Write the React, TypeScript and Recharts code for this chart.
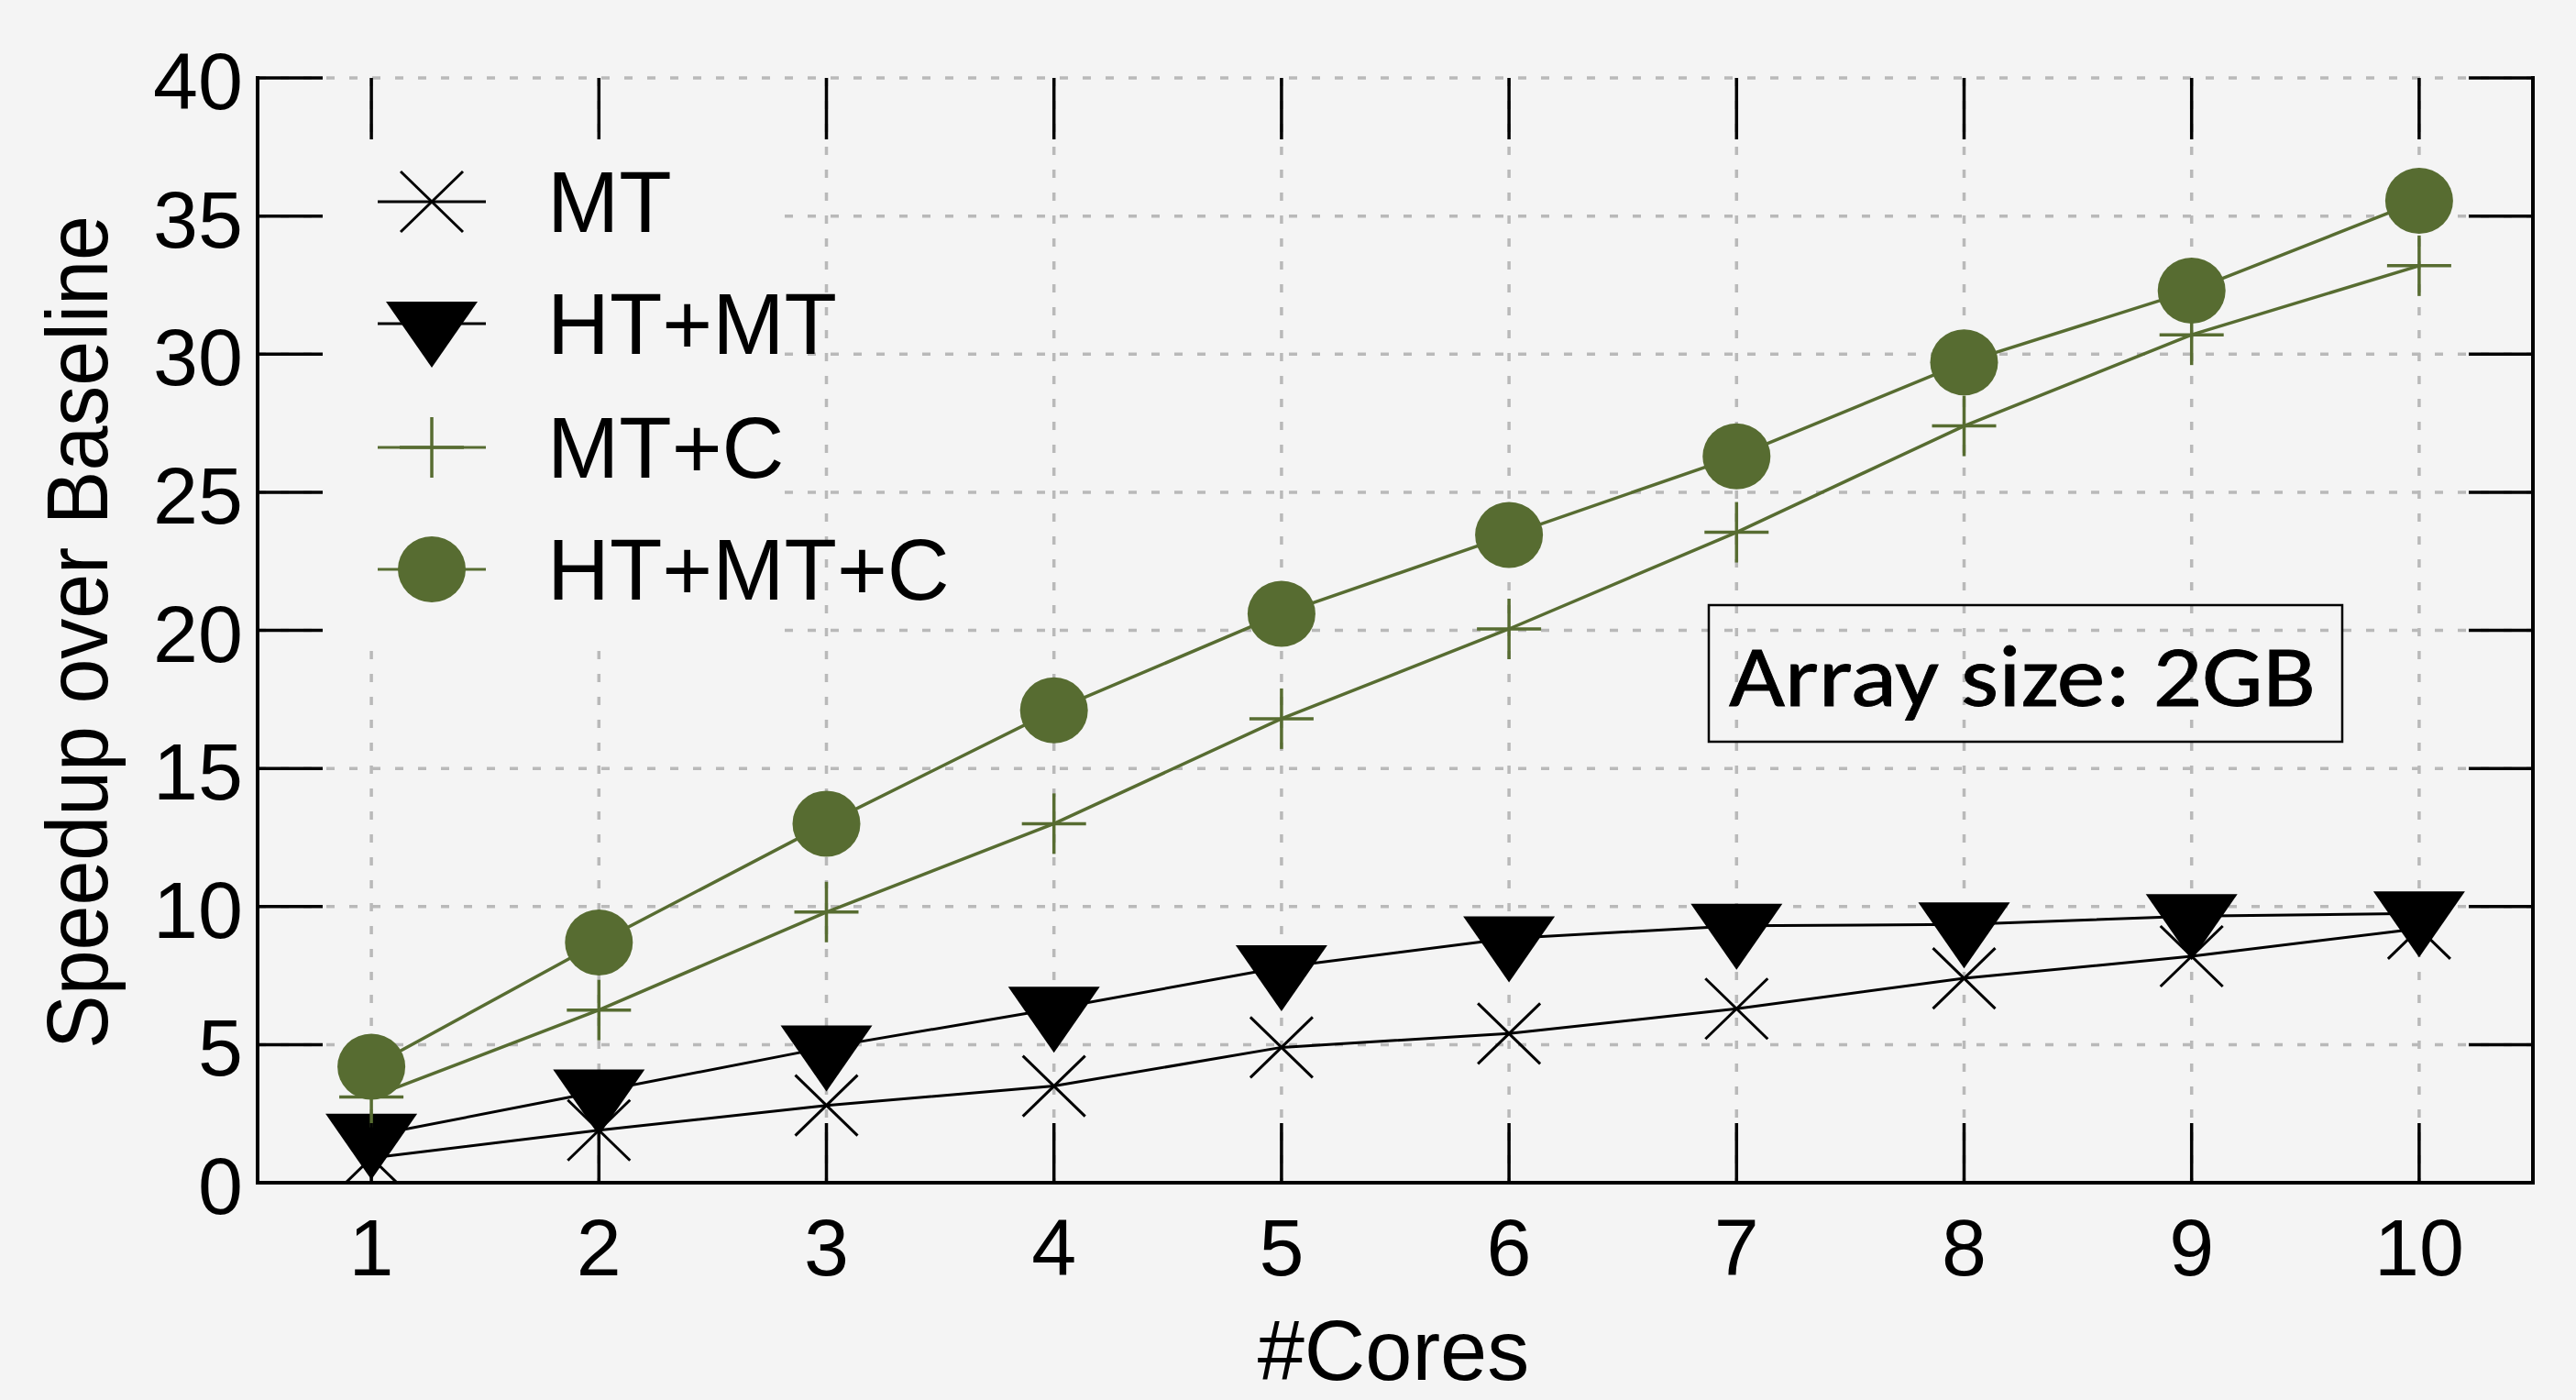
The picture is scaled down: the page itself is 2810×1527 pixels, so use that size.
import React from 'react';
import { LineChart, Line, XAxis, YAxis, CartesianGrid, Legend } from 'recharts';

// ---------------- data ----------------
const cores = [1, 2, 3, 4, 5, 6, 7, 8, 9, 10];
const mtValues = [0.9, 1.9, 2.8, 3.5, 4.9, 5.4, 6.3, 7.4, 8.2, 9.2];
const htMtValues = [1.7, 3.3, 4.9, 6.3, 7.8, 8.85, 9.3, 9.35, 9.65, 9.75];
const mtCValues = [3.1, 6.25, 9.8, 13.0, 16.8, 20.05, 23.55, 27.4, 30.7, 33.2];
const htMtCValues = [4.2, 8.7, 13.0, 17.1, 20.6, 23.45, 26.3, 29.7, 32.3, 35.55];
const seriesNames = ['MT', 'HT+MT', 'MT+C', 'HT+MT+C'];
const xTicks = [1, 2, 3, 4, 5, 6, 7, 8, 9, 10];
const yTicks = [0, 5, 10, 15, 20, 25, 30, 35, 40];
const xLabel = '#Cores';
const yLabel = 'Speedup over Baseline';
const note = 'Array size: 2GB';

const data = cores.map((c, i) => ({
  x: c,
  mt: mtValues[i],
  htmt: htMtValues[i],
  mtc: mtCValues[i],
  htmtc: htMtCValues[i],
}));

// ---------------- style ----------------
const W = 2810;
const H = 1527;
const PLOT_H = 1205;
const BG = '#f4f4f4';
const GREEN = '#576c31';
const GRID = '#b9b9b9';
const FONT = "'Liberation Sans', Arial, Helvetica, sans-serif";

// ---------------- markers ----------------
const Cross = ({ cx, cy, color }: any) => (
  <g>
    <line x1={cx - 34} y1={cy - 33} x2={cx + 34} y2={cy + 33} stroke={color} strokeWidth={3} />
    <line x1={cx - 34} y1={cy + 33} x2={cx + 34} y2={cy - 33} stroke={color} strokeWidth={3} />
  </g>
);
const TriDown = ({ cx, cy, color }: any) => (
  <polygon points={`${cx - 50},${cy - 24} ${cx + 50},${cy - 24} ${cx},${cy + 48}`} fill={color} />
);
const Plus = ({ cx, cy, color }: any) => (
  <g>
    <line x1={cx - 35} y1={cy} x2={cx + 35} y2={cy} stroke={color} strokeWidth={3.5} />
    <line x1={cx} y1={cy - 33} x2={cx} y2={cy + 33} stroke={color} strokeWidth={3.5} />
  </g>
);
const Disc = ({ cx, cy, color }: any) => <ellipse cx={cx} cy={cy} rx={37} ry={36} fill={color} />;

const markerFor = [Cross, TriDown, Plus, Disc];
const colorFor = ['#000', '#000', GREEN, GREEN];

// ---------------- ticks ----------------
const BottomTick = (props: any) => {
  const { x, y, payload } = props;
  return (
    <g>
      <line x1={x} y1={y} x2={x} y2={y - 65} stroke="#000" strokeWidth={3.5} />
      <line x1={x} y1={y - PLOT_H} x2={x} y2={y - PLOT_H + 67} stroke="#000" strokeWidth={3.5} />
      <text x={x} y={y + 101} textAnchor="middle" fontSize={88} fontFamily={FONT} fill="#000">
        {payload.value}
      </text>
    </g>
  );
};
const TopTick = (props: any) => {
  const { x, y } = props;
  return <line x1={x} y1={y} x2={x} y2={y + 67} stroke="#000" strokeWidth={3.5} />;
};
const LeftTick = (props: any) => {
  const { x, y, payload } = props;
  return (
    <g>
      <line x1={x} y1={y} x2={x + 71} y2={y} stroke="#000" strokeWidth={3.5} />
      <text x={x - 16} y={y + 34} textAnchor="end" fontSize={88} fontFamily={FONT} fill="#000">
        {payload.value}
      </text>
    </g>
  );
};
const RightTick = (props: any) => {
  const { x, y } = props;
  return <line x1={x} y1={y} x2={x - 70} y2={y} stroke="#000" strokeWidth={3.5} />;
};

// ---------------- legend + note overlay ----------------
const legendRowY = [220, 353, 488, 621];
const LegendOverlay = () => (
  <svg width={W} height={H} style={{ position: 'absolute', left: 0, top: 0 }}>
    <rect x={354} y={154} width={502} height={542} fill={BG} />
    {seriesNames.map((name, i) => {
      const M = markerFor[i];
      const cy = legendRowY[i];
      return (
        <g key={name}>
          <line x1={412} y1={cy} x2={530} y2={cy} stroke={colorFor[i]} strokeWidth={3} />
          <M cx={471} cy={cy} color={colorFor[i]} />
          <text x={597} y={cy + 33} fontSize={94} fontFamily={FONT} fill="#000">
            {name}
          </text>
        </g>
      );
    })}
    <rect x={1864} y={660} width={691} height={149} fill="none" stroke="#000" strokeWidth={2.5} />
    <text
      x={1886}
      y={770}
      fontSize={94}
      fontFamily="Calibri, Carlito, Lato, 'Open Sans', sans-serif"
      textLength={640}
      lengthAdjust="spacingAndGlyphs"
      fill="#000"
      stroke="#000"
      strokeWidth={0.8}
    >
      {note}
    </text>
  </svg>
);

export default function App() {
  return (
    <div
      style={{
        position: 'fixed',
        left: 0,
        top: 0,
        width: W,
        height: H,
        background: BG,
        overflow: 'hidden',
      }}
    >
      <LineChart width={W} height={H} data={data} margin={{ top: 85, right: 0, bottom: 0, left: 0 }}>
        <CartesianGrid
          xAxisId="bottom"
          yAxisId="left"
          stroke={GRID}
          strokeWidth={3.5}
          strokeDasharray="9 16"
        />
        <XAxis
          xAxisId="bottom"
          dataKey="x"
          type="number"
          domain={[0.5, 10.5]}
          allowDataOverflow
          ticks={xTicks}
          interval={0}
          height={237}
          tickSize={0}
          tickMargin={0}
          tickLine={false}
          axisLine={{ stroke: '#000', strokeWidth: 4, strokeLinecap: 'square' }}
          tick={<BottomTick />}
          label={{
            content: (p: any) => {
              const vb = p.viewBox || { x: 281, width: 2482 };
              return (
                <text
                  x={vb.x + vb.width / 2 - 2}
                  y={1505}
                  textAnchor="middle"
                  fontSize={92}
                  fontFamily={FONT}
                  fill="#000"
                >
                  {xLabel}
                </text>
              );
            },
          }}
        />
        <XAxis
          xAxisId="top"
          orientation="top"
          dataKey="x"
          type="number"
          domain={[0.5, 10.5]}
          allowDataOverflow
          ticks={xTicks}
          interval={0}
          height={0}
          tickSize={0}
          tickMargin={0}
          tickLine={false}
          axisLine={{ stroke: '#000', strokeWidth: 4, strokeLinecap: 'square' }}
          tick={<TopTick />}
        />
        <YAxis
          yAxisId="left"
          type="number"
          domain={[0, 40]}
          allowDataOverflow
          ticks={yTicks}
          interval={0}
          width={281}
          tickSize={0}
          tickMargin={0}
          tickLine={false}
          axisLine={{ stroke: '#000', strokeWidth: 4, strokeLinecap: 'square' }}
          tick={<LeftTick />}
          label={{
            content: (p: any) => {
              const vb = p.viewBox || { y: 85, height: 1205 };
              const cy = vb.y + vb.height / 2 + 2;
              return (
                <text
                  transform={`translate(117, ${cy}) rotate(-90)`}
                  textAnchor="middle"
                  fontSize={95}
                  fontFamily={FONT}
                  textLength={909}
                  lengthAdjust="spacingAndGlyphs"
                  fill="#000"
                >
                  {yLabel}
                </text>
              );
            },
          }}
        />
        <YAxis
          yAxisId="right"
          orientation="right"
          type="number"
          domain={[0, 40]}
          allowDataOverflow
          ticks={yTicks}
          interval={0}
          width={47}
          tickSize={0}
          tickMargin={0}
          tickLine={false}
          axisLine={{ stroke: '#000', strokeWidth: 4, strokeLinecap: 'square' }}
          tick={<RightTick />}
        />
        <Line
          xAxisId="bottom"
          yAxisId="left"
          type="linear"
          dataKey="mt"
          name={seriesNames[0]}
          stroke="#000"
          strokeWidth={3}
          dot={(p: any) => <Cross key={`mt-${p.index}`} cx={p.cx} cy={p.cy} color="#000" />}
          activeDot={false}
          isAnimationActive={false}
        />
        <Line
          xAxisId="bottom"
          yAxisId="left"
          type="linear"
          dataKey="htmt"
          name={seriesNames[1]}
          stroke="#000"
          strokeWidth={3}
          dot={(p: any) => <TriDown key={`htmt-${p.index}`} cx={p.cx} cy={p.cy} color="#000" />}
          activeDot={false}
          isAnimationActive={false}
        />
        <Line
          xAxisId="bottom"
          yAxisId="left"
          type="linear"
          dataKey="mtc"
          name={seriesNames[2]}
          stroke={GREEN}
          strokeWidth={3.5}
          dot={(p: any) => <Plus key={`mtc-${p.index}`} cx={p.cx} cy={p.cy} color={GREEN} />}
          activeDot={false}
          isAnimationActive={false}
        />
        <Line
          xAxisId="bottom"
          yAxisId="left"
          type="linear"
          dataKey="htmtc"
          name={seriesNames[3]}
          stroke={GREEN}
          strokeWidth={3.5}
          dot={(p: any) => <Disc key={`htmtc-${p.index}`} cx={p.cx} cy={p.cy} color={GREEN} />}
          activeDot={false}
          isAnimationActive={false}
        />
        <Legend
          layout="vertical"
          align="center"
          verticalAlign="middle"
          wrapperStyle={{ position: 'absolute', left: 0, top: 0, width: W, height: H, pointerEvents: 'none' }}
          content={() => <LegendOverlay />}
        />
      </LineChart>
    </div>
  );
}
